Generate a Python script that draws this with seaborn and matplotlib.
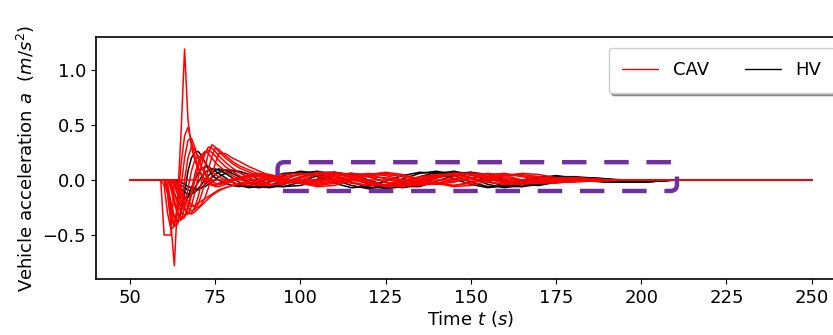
import pandas as pd
import seaborn as sns
import matplotlib.pyplot as plt
from matplotlib.lines import Line2D
from matplotlib.patches import FancyBboxPatch

# time grid (s), shared by every vehicle
time_s = [50, 59, 60, 61, 62, 63, 64, 65, 66, 67,
          68, 69, 70, 71, 72, 73, 74, 75, 76, 78,
          80, 82, 85, 88, 91, 95, 100, 105, 110, 115,
          120, 125, 130, 135, 140, 145, 150, 155, 160, 165,
          170, 175, 180, 185, 190, 195, 200, 205, 210, 250]

# CAV accelerations (m/s^2)
cav_lead = [0, 0, -0.5, -0.5, -0.5, 0, 0, 0, 0, 0,
            0, 0, 0, 0, 0, 0, 0, 0, 0, 0,
            0, 0, 0, 0, 0, 0, 0, 0, 0, 0,
            0, 0, 0, 0, 0, 0, 0, 0, 0, 0,
            0, 0, 0, 0, 0, 0, 0, 0, 0, 0]
cav_1 = [0, 0, 0, -0.12, -0.4, -0.78, -0.15, 0.45, 1.19, 0.55,
         0.3, 0.18, 0.1, 0.04, 0.0, -0.03, -0.04, -0.04, -0.03, -0.01,
         0.01, 0.02, 0.03, 0.03, 0.02, 0.0, -0.02, -0.03, -0.01, 0.02,
         0.03, 0.02, 0.0, -0.02, -0.03, -0.01, 0.02, 0.03, 0.02, 0.0,
         -0.02, -0.02, -0.01, 0.0, 0.0, 0, 0, 0, 0, 0]
cav_2 = [0, 0, -0.05, -0.3, -0.45, -0.42, -0.2, 0.15, 0.4, 0.48,
         0.35, 0.22, 0.12, 0.05, 0.0, -0.03, -0.05, -0.05, -0.04, -0.02,
         0.0, 0.02, 0.04, 0.04, 0.03, 0.01, -0.03, -0.05, -0.03, 0.01,
         0.04, 0.05, 0.03, 0.0, -0.03, -0.05, -0.03, 0.01, 0.04, 0.04,
         0.02, 0.0, -0.01, -0.01, 0.0, 0, 0, 0, 0, 0]
cav_3 = [0, 0, 0, -0.12, -0.35, -0.42, -0.4, -0.25, 0.0, 0.2,
         0.3, 0.28, 0.2, 0.12, 0.05, 0.0, -0.04, -0.06, -0.06, -0.04,
         -0.01, 0.02, 0.05, 0.06, 0.05, 0.02, -0.03, -0.06, -0.05, 0.0,
         0.05, 0.07, 0.05, 0.01, -0.03, -0.06, -0.05, -0.01, 0.04, 0.06,
         0.05, 0.02, 0.0, -0.01, -0.01, 0, 0, 0, 0, 0]
cav_4 = [0, 0, 0, -0.03, -0.2, -0.33, -0.38, -0.36, -0.25, -0.08,
         0.08, 0.18, 0.22, 0.2, 0.16, 0.12, 0.08, 0.05, 0.03, 0.0,
         -0.02, -0.04, -0.05, -0.04, -0.02, 0.01, 0.05, 0.06, 0.03, -0.02,
         -0.05, -0.05, -0.02, 0.02, 0.05, 0.05, 0.02, -0.02, -0.04, -0.03,
         0.0, 0.02, 0.02, 0.01, 0.0, 0, 0, 0, 0, 0]
cav_5 = [0, 0, 0, 0, -0.08, -0.22, -0.31, -0.34, -0.33, -0.24,
         -0.1, 0.05, 0.16, 0.23, 0.26, 0.24, 0.2, 0.16, 0.13, 0.08,
         0.04, 0.01, -0.03, -0.05, -0.05, -0.02, 0.03, 0.07, 0.06, 0.02,
         -0.03, -0.06, -0.05, -0.01, 0.03, 0.06, 0.05, 0.01, -0.03, -0.04,
         -0.02, 0.01, 0.02, 0.01, 0.0, 0, 0, 0, 0, 0]
cav_6 = [0, 0, 0, 0, -0.02, -0.12, -0.22, -0.29, -0.32, -0.31,
         -0.24, -0.12, 0.02, 0.14, 0.24, 0.3, 0.29, 0.26, 0.22, 0.16,
         0.11, 0.07, 0.02, -0.02, -0.04, -0.04, 0.0, 0.05, 0.07, 0.04,
         -0.01, -0.05, -0.06, -0.03, 0.02, 0.05, 0.06, 0.03, -0.01, -0.03,
         -0.03, 0.0, 0.02, 0.01, 0.0, 0, 0, 0, 0, 0]
cav_7 = [0, 0, 0, 0, 0, -0.05, -0.14, -0.22, -0.27, -0.3,
         -0.3, -0.25, -0.15, -0.02, 0.12, 0.24, 0.32, 0.3, 0.26, 0.2,
         0.15, 0.11, 0.07, 0.03, 0.0, -0.02, -0.03, 0.01, 0.05, 0.06,
         0.03, -0.02, -0.05, -0.05, -0.01, 0.03, 0.06, 0.05, 0.02, -0.02,
         -0.03, -0.02, 0.01, 0.01, 0.0, 0, 0, 0, 0, 0]
cav_8 = [0, 0, 0, 0, 0, -0.02, -0.08, -0.15, -0.21, -0.25,
         -0.28, -0.27, -0.22, -0.13, -0.02, 0.1, 0.21, 0.29, 0.28, 0.22,
         0.17, 0.13, 0.09, 0.05, 0.02, -0.01, -0.02, -0.01, 0.03, 0.06,
         0.05, 0.01, -0.03, -0.05, -0.03, 0.01, 0.04, 0.06, 0.04, 0.0,
         -0.02, -0.03, -0.01, 0.0, 0.0, 0, 0, 0, 0, 0]
cav_9 = [0, 0, 0, 0, 0, 0, -0.04, -0.09, -0.14, -0.19,
         -0.22, -0.25, -0.25, -0.22, -0.16, -0.07, 0.04, 0.15, 0.24, 0.24,
         0.2, 0.17, 0.12, 0.08, 0.04, 0.01, -0.02, -0.02, 0.01, 0.04,
         0.06, 0.04, 0.0, -0.03, -0.04, -0.02, 0.02, 0.05, 0.06, 0.03,
         0.0, -0.02, -0.02, -0.01, 0.0, 0, 0, 0, 0, 0]
cav_10 = [0, 0, 0, 0, 0, -0.03, -0.1, -0.18, -0.25, -0.3,
          -0.31, -0.29, -0.26, -0.23, -0.2, -0.17, -0.14, -0.12, -0.1, -0.07,
          -0.05, -0.03, -0.01, 0.01, 0.03, 0.05, 0.06, 0.04, 0.0, -0.03,
          -0.05, -0.04, -0.01, 0.03, 0.05, 0.05, 0.02, -0.02, -0.04, -0.03,
          -0.01, 0.01, 0.01, 0.0, 0.0, 0, 0, 0, 0, 0]
cav_11 = [0, 0, 0, 0, 0, 0, -0.05, -0.12, -0.18, -0.22,
          -0.24, -0.23, -0.21, -0.19, -0.17, -0.15, -0.13, -0.11, -0.09, -0.07,
          -0.05, -0.04, -0.03, -0.01, 0.01, 0.03, 0.05, 0.06, 0.04, 0.0,
          -0.03, -0.05, -0.04, 0.0, 0.04, 0.06, 0.05, 0.02, -0.02, -0.03,
          -0.02, 0.0, 0.01, 0.01, 0.0, 0, 0, 0, 0, 0]
cav_12 = [0, 0, 0, -0.06, -0.28, -0.4, -0.3, -0.05, 0.2, 0.36,
          0.38, 0.3, 0.2, 0.12, 0.06, 0.02, -0.01, -0.03, -0.04, -0.03,
          -0.01, 0.01, 0.04, 0.05, 0.04, 0.01, -0.02, -0.04, -0.02, 0.02,
          0.05, 0.06, 0.04, 0.0, -0.03, -0.05, -0.02, 0.02, 0.05, 0.05,
          0.03, 0.01, 0.0, -0.01, 0.0, 0, 0, 0, 0, 0]
cav_13 = [0, 0, 0, 0, -0.05, -0.18, -0.3, -0.36, -0.34, -0.26,
          -0.14, 0.0, 0.12, 0.2, 0.25, 0.27, 0.25, 0.22, 0.18, 0.12,
          0.08, 0.04, 0.0, -0.03, -0.05, -0.03, 0.02, 0.06, 0.07, 0.03,
          -0.02, -0.05, -0.06, -0.02, 0.02, 0.06, 0.06, 0.02, -0.02, -0.04,
          -0.02, 0.0, 0.02, 0.01, 0.0, 0, 0, 0, 0, 0]

# HV accelerations (m/s^2)
hv_1 = [0, 0, 0, -0.1, -0.25, -0.34, -0.37, -0.3, -0.12, 0.08,
        0.2, 0.25, 0.26, 0.22, 0.16, 0.1, 0.05, 0.02, 0.0, -0.03,
        -0.05, -0.06, -0.05, -0.02, 0.02, 0.06, 0.07, 0.03, -0.03, -0.07,
        -0.06, -0.01, 0.04, 0.07, 0.06, 0.01, -0.04, -0.07, -0.05, 0.0,
        0.03, 0.03, 0.01, -0.01, -0.02, -0.02, -0.01, 0, 0, 0]
hv_2 = [0, 0, 0, 0, -0.04, -0.12, -0.2, -0.24, -0.22, -0.15,
        -0.07, 0.0, 0.06, 0.1, 0.12, 0.12, 0.1, 0.08, 0.06, 0.02,
        -0.02, -0.05, -0.07, -0.05, -0.01, 0.04, 0.08, 0.06, 0.0, -0.05,
        -0.08, -0.05, 0.01, 0.06, 0.08, 0.04, -0.02, -0.06, -0.06, -0.02,
        0.02, 0.04, 0.02, 0.0, -0.02, -0.02, -0.01, 0, 0, 0]
hv_3 = [0, 0, 0, 0, 0, -0.04, -0.1, -0.15, -0.17, -0.16,
        -0.12, -0.07, -0.02, 0.03, 0.07, 0.09, 0.1, 0.1, 0.09, 0.06,
        0.02, -0.02, -0.06, -0.07, -0.05, 0.0, 0.06, 0.08, 0.04, -0.02,
        -0.07, -0.07, -0.03, 0.03, 0.07, 0.07, 0.02, -0.04, -0.07, -0.04,
        0.0, 0.03, 0.03, 0.01, -0.01, -0.02, -0.02, -0.01, 0, 0]
hv_4 = [0, 0, 0, 0, 0, 0, -0.04, -0.08, -0.11, -0.13,
        -0.13, -0.11, -0.08, -0.04, 0.0, 0.04, 0.07, 0.09, 0.1, 0.09,
        0.06, 0.03, -0.02, -0.06, -0.07, -0.04, 0.02, 0.07, 0.07, 0.02,
        -0.04, -0.08, -0.06, 0.0, 0.05, 0.08, 0.05, -0.01, -0.06, -0.06,
        -0.02, 0.02, 0.03, 0.02, 0.0, -0.02, -0.02, -0.01, 0, 0]
hv_5 = [0, 0, 0, 0, 0, 0, -0.02, -0.05, -0.07, -0.09,
        -0.1, -0.1, -0.09, -0.07, -0.04, -0.01, 0.02, 0.05, 0.07, 0.09,
        0.09, 0.07, 0.02, -0.03, -0.06, -0.06, -0.02, 0.04, 0.07, 0.05,
        0.0, -0.05, -0.07, -0.04, 0.02, 0.06, 0.07, 0.03, -0.03, -0.06,
        -0.04, 0.0, 0.02, 0.02, 0.01, -0.01, -0.02, -0.01, 0, 0]
hv_6 = [0, 0, 0, 0, 0, 0, 0, -0.02, -0.04, -0.06,
        -0.07, -0.08, -0.08, -0.07, -0.06, -0.04, -0.02, 0.0, 0.03, 0.06,
        0.08, 0.08, 0.05, 0.0, -0.04, -0.06, -0.05, 0.0, 0.05, 0.06,
        0.03, -0.02, -0.06, -0.06, -0.01, 0.04, 0.07, 0.05, 0.0, -0.04,
        -0.05, -0.02, 0.01, 0.02, 0.01, 0.0, -0.02, -0.01, 0, 0]

cav_lines = [cav_lead, cav_1, cav_2, cav_3, cav_4, cav_5, cav_6,
             cav_7, cav_8, cav_9, cav_10, cav_11, cav_12, cav_13]
hv_lines = [hv_1, hv_2, hv_3, hv_4, hv_5, hv_6]

# long table for seaborn
rows = []
for i, acc in enumerate(cav_lines):
    for t, a in zip(time_s, acc):
        rows.append({'t': t, 'a': a, 'type': 'CAV', 'veh': f'c{i}'})
for i, acc in enumerate(hv_lines):
    for t, a in zip(time_s, acc):
        rows.append({'t': t, 'a': a, 'type': 'HV', 'veh': f'h{i}'})
df = pd.DataFrame(rows)

sns.set_style('ticks')
plt.rcParams['font.family'] = ['DejaVu Sans']
plt.rcParams['text.color'] = 'black'
plt.rcParams['axes.labelcolor'] = 'black'
plt.rcParams['xtick.color'] = 'black'
plt.rcParams['ytick.color'] = 'black'
plt.rcParams['axes.edgecolor'] = 'black'

fig = plt.figure(figsize=(8.33, 3.35), dpi=100)
ax = fig.add_axes([0.1152, 0.1672, 0.90, 0.7224])

sns.lineplot(data=df, x='t', y='a', hue='type', units='veh', estimator=None,
             hue_order=['HV', 'CAV'], palette={'CAV': 'red', 'HV': 'black'},
             linewidth=1.1, legend=False, ax=ax, sort=False)

ax.set_xlim(40, 260)
ax.set_ylim(-0.9, 1.3)
ax.set_xticks([50, 75, 100, 125, 150, 175, 200, 225, 250])
ax.set_yticks([-0.5, 0.0, 0.5, 1.0])
ax.tick_params(labelsize=13)
ax.set_xlabel(r'Time $t$ $(s)$', fontsize=13, labelpad=2)
ax.set_ylabel(r'Vehicle acceleration $a$  $(m/s^2)$', fontsize=13)
for sp in ax.spines.values():
    sp.set_linewidth(1.2)

# highlight box (dashed, rounded)
box = FancyBboxPatch((93.3, -0.10), 117.2, 0.262,
                     boxstyle='round,pad=0,rounding_size=2',
                     mutation_aspect=0.0306, fill=False,
                     edgecolor='#7030A0', linewidth=3.2,
                     linestyle=(0, (5.5, 4)), zorder=5)
ax.add_patch(box)

handles = [Line2D([], [], color='red', lw=1.0), Line2D([], [], color='black', lw=1.0)]
ax.legend(handles, ['CAV', 'HV'], loc='upper right', ncol=2, fontsize=13,
          shadow=True, bbox_to_anchor=(1.0, 1.0), borderaxespad=0.6,
          borderpad=0.75)

plt.savefig('out.png', dpi=100)
plt.close()
